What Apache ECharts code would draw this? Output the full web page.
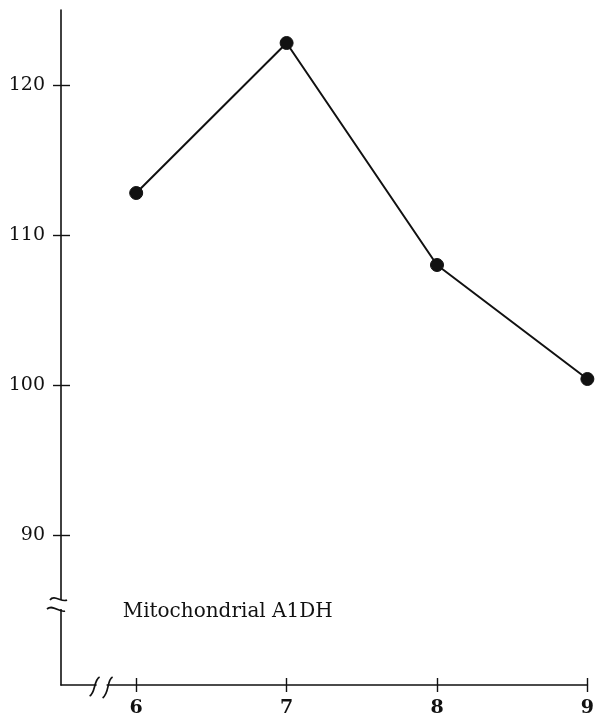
<!DOCTYPE html>
<html>
<head>
<meta charset="utf-8">
<script src="https://cdn.jsdelivr.net/npm/echarts@6/dist/echarts.min.js"></script>
<style>html,body{margin:0;padding:0;background:#fff;}#c{width:597px;height:722px;}</style>
</head>
<body>
<div id="c"></div>
<script>
const xValues = [6, 7, 8, 9];
const yValues = [112.8, 122.8, 108.0, 100.4];
const yTicks = [90, 100, 110, 120];
const xTicks = [6, 7, 8, 9];
const label = 'Mitochondrial A1DH';

const font = '"DejaVu Serif", "Liberation Serif", serif';
const ink = '#111';

const chart = echarts.init(document.getElementById('c'));
const baseAxisLine = { show: true, lineStyle: { color: ink, width: 1.6 } };

chart.setOption({
  animation: false,
  grid: { left: 61, right: 9, top: 10, bottom: 37, containLabel: false },
  xAxis: [
    {
      type: 'value', min: 5.5, max: 9,
      axisLine: baseAxisLine,
      splitLine: { show: false },
      axisTick: { show: true, length: 7, customValues: xTicks, lineStyle: { color: ink, width: 1.4 } },
      axisLabel: { customValues: xTicks, margin: 14, color: ink, fontFamily: font, fontSize: 19, fontWeight: 'bold' }
    },
    {
      type: 'value', min: 5.5, max: 9, position: 'bottom',
      axisLine: { show: false },
      splitLine: { show: false },
      axisTick: { show: true, inside: true, length: 7, customValues: xTicks, lineStyle: { color: ink, width: 1.4 } },
      axisLabel: { show: false }
    }
  ],
  yAxis: [
    {
      type: 'value', min: 80, max: 125,
      axisLine: baseAxisLine,
      splitLine: { show: false },
      axisTick: { show: true, length: 8, customValues: yTicks, lineStyle: { color: ink, width: 1.4 } },
      axisLabel: { customValues: yTicks, margin: 16, color: ink, fontFamily: font, fontSize: 19 }
    },
    {
      type: 'value', min: 80, max: 125, position: 'left',
      axisLine: { show: false },
      splitLine: { show: false },
      axisTick: { show: true, inside: true, length: 9, customValues: yTicks, lineStyle: { color: ink, width: 1.4 } },
      axisLabel: { show: false }
    }
  ],
  series: [{
    type: 'line',
    data: xValues.map((x, i) => [x, yValues[i]]),
    symbol: 'circle',
    symbolSize: 13,
    lineStyle: { color: ink, width: 2 },
    itemStyle: { color: ink, borderColor: ink }
  }]
});

// text label and axis break marks, positioned via the axis scales
const tp = chart.convertToPixel({ gridIndex: 0 }, [5.91, 84.9]);
const yb = chart.convertToPixel({ gridIndex: 0 }, [5.5, 85.4]);
const xb = chart.convertToPixel({ gridIndex: 0 }, [5.77, 80]);
const stroke = { stroke: ink, lineWidth: 1.7, fill: 'none' };
chart.setOption({
  graphic: [
    { type: 'text', z: 100, x: tp[0], y: tp[1], style: { text: label, font: '20px ' + font, fill: ink, textVerticalAlign: 'middle' } },
    // y axis break
    { type: 'rect', z: 100, shape: { x: yb[0] - 4, y: yb[1] - 4, width: 8, height: 9 }, style: { fill: '#fff' } },
    { type: 'bezierCurve', z: 101, shape: { x1: yb[0] - 11, y1: yb[1] - 4, cpx1: yb[0] - 7, cpy1: yb[1] - 10, cpx2: yb[0] + 1, cpy2: yb[1] - 1, x2: yb[0] + 6, y2: yb[1] - 4 }, style: stroke },
    { type: 'bezierCurve', z: 101, shape: { x1: yb[0] - 14, y1: yb[1] + 5, cpx1: yb[0] - 8, cpy1: yb[1] + 0, cpx2: yb[0] - 1, cpy2: yb[1] + 9, x2: yb[0] + 4, y2: yb[1] + 7 }, style: stroke },
    // x axis break
    { type: 'rect', z: 100, shape: { x: xb[0] - 5, y: xb[1] - 3, width: 10, height: 6 }, style: { fill: '#fff' } },
    { type: 'bezierCurve', z: 101, shape: { x1: xb[0] - 12, y1: xb[1] + 11, cpx1: xb[0] - 6, cpy1: xb[1] + 8, cpx2: xb[0] - 8, cpy2: xb[1] - 5, x2: xb[0] - 2, y2: xb[1] - 8 }, style: stroke },
    { type: 'bezierCurve', z: 101, shape: { x1: xb[0] + 1, y1: xb[1] + 13, cpx1: xb[0] + 8, cpy1: xb[1] + 8, cpx2: xb[0] + 5, cpy2: xb[1] - 5, x2: xb[0] + 11, y2: xb[1] - 8 }, style: stroke }
  ]
});
</script>
</body>
</html>
